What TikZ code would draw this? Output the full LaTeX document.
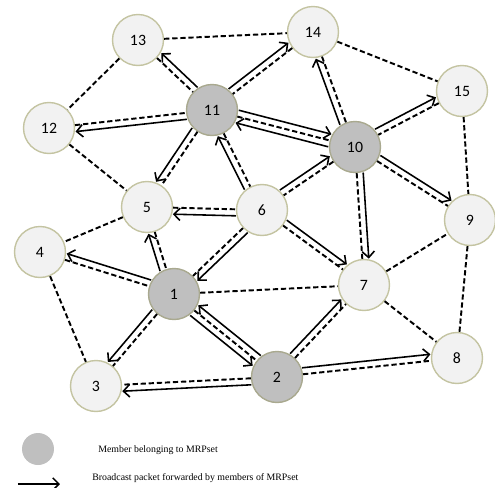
\documentclass[tikz,border=0pt]{standalone}
\usepackage{fontspec}
\setmainfont{Carlito}
\newfontfamily\legendfont{Liberation Serif}
\usetikzlibrary{calc,arrows.meta}
\definecolor{hostfill}{HTML}{F2F2F2}
\definecolor{hostborder}{HTML}{C4C4A2}
\definecolor{mrpfill}{HTML}{BFBFBF}
\definecolor{mrpborder}{HTML}{A9A98F}
\tikzstyle{host} =[
    circle,
    draw=hostborder,
    fill=hostfill,
    line width=0.8pt,
    minimum size=1.02cm,
    inner sep=0pt,
    font=\fontsize{9}{10}\selectfont
    ]
\tikzstyle{mrp} =[host, draw=mrpborder, fill=mrpfill]
\tikzstyle{link} =[dash pattern=on 3pt off 1.6pt, line width=1.1pt]
\tikzstyle{fwd} =[
    line width=0.9pt,
    -{Straight Barb[length=3.5pt,width=7pt]},
    shorten <=0.52cm,
    shorten >=0.52cm
    ]
\tikzstyle{legendtext} =[anchor=west, inner sep=0pt, font=\legendfont\fontsize{5.6}{7}\selectfont]
\newcommand{\bcast}[3][0.13cm]{% forwarded packet, offset beside the link
\draw[fwd] ($(#2)!#1!90:(#3)$) -- ($(#3)!#1!-90:(#2)$);}

\begin{document}
\begin{tikzpicture}[x=0.02cm, y=-0.02cm]
\useasboundingbox (0,0) rectangle (495,488);

% hosts
\node[host] (n13) at (138,40) {13};
\node[host] (n14) at (313,32) {14};
\node[host] (n15) at (462,91) {15};
\node[host] (n12) at (49,128) {12};
\node[mrp]  (n11) at (212,110) {11};
\node[mrp]  (n10) at (355,147) {10};
\node[host] (n5)  at (147,207) {5};
\node[host] (n6)  at (262,210) {6};
\node[host] (n9)  at (470,220) {9};
\node[host] (n4)  at (40,252) {4};
\node[mrp]  (n1)  at (174,294) {1};
\node[host] (n7)  at (364,285) {7};
\node[host] (n3)  at (96,386) {3};
\node[mrp]  (n2)  at (277,377) {2};
\node[host] (n8)  at (457,358) {8};

% links
\draw[link] (n13) -- (n14) (n13) -- (n12) (n13) -- (n11) (n14) -- (n15);
\draw[link] (n14) -- (n11) (n14) -- (n10) (n12) -- (n11) (n12) -- (n5);
\draw[link] (n11) -- (n5) (n11) -- (n6) (n11) -- (n10) (n15) -- (n10);
\draw[link] (n15) -- (n9) (n10) -- (n6) (n10) -- (n9) (n10) -- (n7);
\draw[link] (n5) -- (n6) (n5) -- (n4) (n5) -- (n1) (n6) -- (n1);
\draw[link] (n6) -- (n7) (n4) -- (n1) (n4) -- (n3) (n1) -- (n3);
\draw[link] (n1) -- (n7) (n1) -- (n2) (n2) -- (n3) (n2) -- (n7);
\draw[link] (n2) -- (n8) (n7) -- (n9) (n7) -- (n8) (n9) -- (n8);

% forwarding by MRPset members
\bcast[-0.13cm]{n11}{n13}
\bcast{n11}{n14}
\bcast{n11}{n12}
\bcast[-0.13cm]{n11}{n5}
\bcast{n11}{n10}
\bcast{n10}{n11}
\bcast{n6}{n11}
\bcast{n6}{n5}
\bcast{n6}{n1}
\bcast{n6}{n10}
\bcast{n6}{n7}
\bcast{n10}{n14}
\bcast{n10}{n15}
\bcast{n10}{n9}
\bcast{n10}{n7}
\bcast{n1}{n5}
\bcast[-0.13cm]{n1}{n4}
\bcast[-0.13cm]{n1}{n3}
\bcast[-0.13cm]{n1}{n2}
\bcast[-0.13cm]{n2}{n1}
\bcast{n2}{n3}
\bcast{n2}{n7}
\bcast{n2}{n8}

% legend
\node[circle, fill=mrpfill, minimum size=0.64cm, inner sep=0pt] (keydot) at (38,449) {};
\node[legendtext] (keydottext) at (98,450) {Member belonging to MRPset};
\coordinate (keytail) at (18,484);
\coordinate (keyhead) at (60,484);
\draw[fwd, shorten <=0pt, shorten >=0pt] (keytail) -- (keyhead);
\node[legendtext] (keyarrowtext) at (92,478) {Broadcast packet forwarded by members of MRPset};
\end{tikzpicture}
\end{document}
